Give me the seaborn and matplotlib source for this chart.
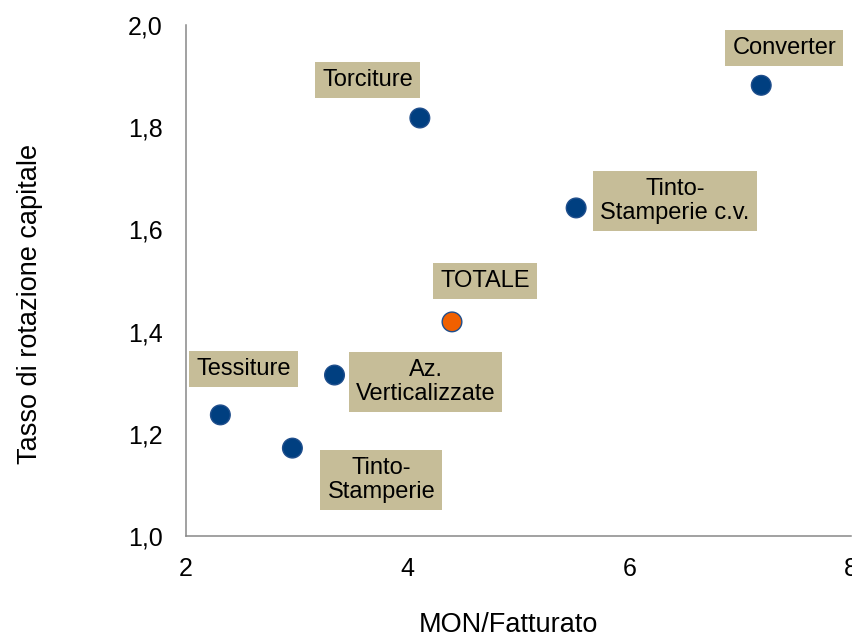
import pandas as pd
import matplotlib
matplotlib.use("Agg")
import matplotlib.pyplot as plt
import seaborn as sns

# Data
settori = ["Converter", "Torciture", "Tinto-Stamperie c.v.", "TOTALE",
           "Az. Verticalizzate", "Tessiture", "Tinto-Stamperie"]
etichette = ["Converter", "Torciture", "Tinto-\nStamperie c.v.", "TOTALE",
             "Az.\nVerticalizzate", "Tessiture", "Tinto-\nStamperie"]
mon_fatturato = [7.19, 4.11, 5.52, 4.40, 3.34, 2.31, 2.96]
rotazione = [1.882, 1.818, 1.642, 1.419, 1.315, 1.237, 1.172]
gruppo = ["Settore", "Settore", "Settore", "Totale", "Settore", "Settore", "Settore"]

df = pd.DataFrame({"Settore": settori, "Etichetta": etichette,
                   "MON": mon_fatturato, "Rotazione": rotazione, "Gruppo": gruppo})

sns.set_style("white")
plt.rcParams["font.family"] = ["Liberation Sans", "DejaVu Sans"]
plt.rcParams["text.color"] = "black"
plt.rcParams["axes.labelcolor"] = "black"

fig = plt.figure(figsize=(8.52, 6.37), dpi=100)
ax = fig.add_axes([186 / 852, 101 / 637, 665 / 852, 511 / 637])

sns.scatterplot(data=df, x="MON", y="Rotazione", hue="Gruppo",
                palette={"Settore": "#003f80", "Totale": "#f06000"},
                s=200, edgecolor="#1f4e8c", linewidth=1.0, legend=False,
                ax=ax, zorder=3, clip_on=False)

# label offsets in pixels (label centre relative to point)
offsets = {
    "Converter": (23, 37),
    "Torciture": (-52, 38),
    "Tinto-Stamperie c.v.": (99, 7),
    "TOTALE": (33, 41),
    "Az. Verticalizzate": (91, -7),
    "Tessiture": (23, 46),
    "Tinto-Stamperie": (89, -32),
}
for _, r in df.iterrows():
    ax.annotate(r["Etichetta"], (r["MON"], r["Rotazione"]),
                xytext=offsets[r["Settore"]], textcoords="offset pixels",
                ha="center", va="center", fontsize=17, linespacing=1.1,
                color="black",
                bbox=dict(boxstyle="square,pad=0.3", fc="#c6bd98", ec="none"),
                zorder=4, annotation_clip=False)

ax.set_xlim(2, 8)
ax.set_ylim(1.0, 2.0)
ax.set_xticks([2, 4, 6, 8])
ax.set_xticklabels(["2", "4", "6", "8"])
yt = [1.0, 1.2, 1.4, 1.6, 1.8, 2.0]
ax.set_yticks(yt)
ax.set_yticklabels([f"{v:.1f}".replace(".", ",") for v in yt])

for side in ["top", "right"]:
    ax.spines[side].set_visible(False)
for side in ["left", "bottom"]:
    ax.spines[side].set_color("#888888")
    ax.spines[side].set_linewidth(1.1)
ax.tick_params(axis="both", direction="out", length=5, width=1.1,
               color="#888888", labelsize=18, labelcolor="black")
ax.tick_params(axis="y", pad=12)
ax.tick_params(axis="x", pad=10)

ax.set_xlabel("MON/Fatturato", fontsize=19.5, color="black")
ax.set_ylabel("Tasso di rotazione capitale", fontsize=19.5, color="black")
ax.xaxis.set_label_coords((508 - 186) / 665, -(625 - 536) / 511)
ax.yaxis.set_label_coords(-(186 - 30) / 665, (536 - 304) / 511)
ax.xaxis.label.set_va("center")
ax.yaxis.label.set_va("center")

fig.savefig("out.png", dpi=100)
